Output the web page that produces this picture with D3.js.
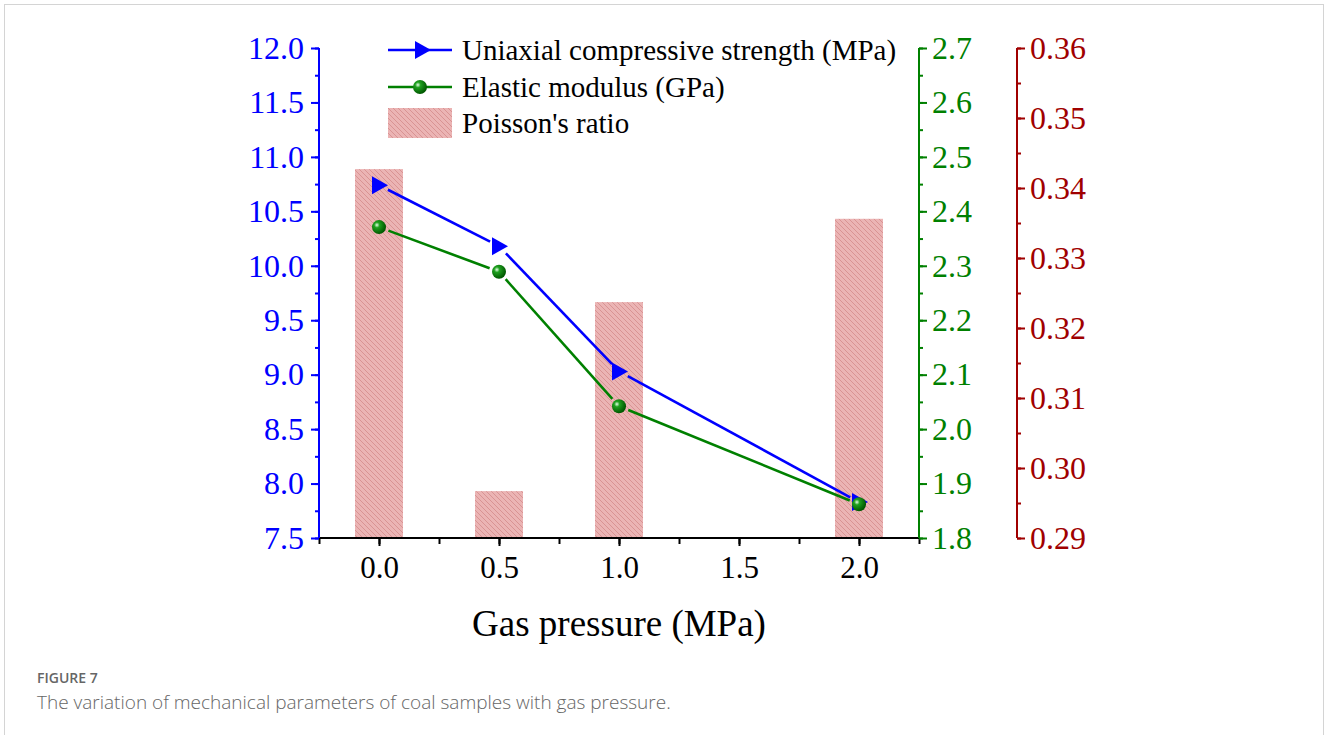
<!DOCTYPE html>
<html>
<head>
<meta charset="utf-8">
<script src="https://cdn.jsdelivr.net/npm/d3@7"></script>
<style>
  body { margin: 0; background: #fff; }
  svg { display: block; }
</style>
</head>
<body>
<div id="contenedor"></div>
<script>
// datos
var presion = [0.0, 0.5, 1.0, 2.0]
var resistencia = [10.74, 10.18, 9.03, 7.83]   // MPa
var modulo = [2.371, 2.289, 2.042, 1.862]      // GPa
var poisson = [0.3427, 0.2967, 0.3237, 0.3356]
var ticksX = [0.0, 0.5, 1.0, 1.5, 2.0]

var ancho = 1328, alto = 735
var izq = 319, der = 919, arriba = 48, abajo = 538
var serif = "'Liberation Serif', 'Times New Roman', serif"

var svg = d3.select("#contenedor").append("svg")
  .attr("width", ancho).attr("height", alto)

// marco de la tarjeta
svg.append("rect").attr("x", 4.5).attr("y", 4.5).attr("width", ancho - 9).attr("height", alto)
  .attr("fill", "none").attr("stroke", "#d4d4d4")

// patron rayado de las barras
var defs = svg.append("defs")
var pat = defs.append("pattern").attr("id", "rayas")
  .attr("patternUnits", "userSpaceOnUse").attr("width", 5).attr("height", 5)
pat.append("rect").attr("width", 5).attr("height", 5).attr("fill", "#ebb4b4")
pat.append("path").attr("d", "M0,0 L5,5 M-1,4 L1,6 M4,-1 L6,1")
  .attr("stroke", "#d48a8a").attr("stroke-width", 0.8)

var grad = defs.append("radialGradient").attr("id", "esfera")
  .attr("cx", "35%").attr("cy", "35%").attr("r", "65%")
grad.append("stop").attr("offset", "0%").attr("stop-color", "#e8ffe8")
grad.append("stop").attr("offset", "30%").attr("stop-color", "#1fa01f")
grad.append("stop").attr("offset", "100%").attr("stop-color", "#005800")

// ESCALAS
var x = d3.scaleLinear().domain([-0.25, 2.25]).range([izq, der])
var yUcs = d3.scaleLinear().domain([7.5, 12.0]).range([abajo, arriba])
var yMod = d3.scaleLinear().domain([1.8, 2.7]).range([abajo, arriba])
var yPoi = d3.scaleLinear().domain([0.29, 0.36]).range([abajo, arriba])

// barras Poisson
svg.selectAll(".barra").data(presion).enter().append("rect")
  .attr("class", "barra")
  .attr("x", function(d) { return x(d - 0.1) })
  .attr("width", function(d) { return x(d + 0.1) - x(d - 0.1) })
  .attr("y", function(d, i) { return yPoi(poisson[i]) })
  .attr("height", function(d, i) { return abajo - yPoi(poisson[i]) })
  .attr("fill", "url(#rayas)")

// lineas con hueco alrededor de los marcadores
function linea(valores, escala, color) {
  for (var i = 0; i < presion.length - 1; i++) {
    var x1 = x(presion[i]), y1 = escala(valores[i])
    var x2 = x(presion[i + 1]), y2 = escala(valores[i + 1])
    var dx = x2 - x1, dy = y2 - y1, L = Math.sqrt(dx * dx + dy * dy), g = 10
    svg.append("line")
      .attr("x1", x1 + dx / L * g).attr("y1", y1 + dy / L * g)
      .attr("x2", x2 - dx / L * g).attr("y2", y2 - dy / L * g)
      .attr("stroke", color).attr("stroke-width", 2.6)
  }
}
linea(resistencia, yUcs, "#0000ff")
linea(modulo, yMod, "#008000")

var triangulo = "M-7,-9 L9,0 L-7,9 Z"
svg.selectAll(".tri").data(presion).enter().append("path")
  .attr("class", "tri")
  .attr("transform", function(d, i) { return "translate(" + x(d) + "," + yUcs(resistencia[i]) + ")" })
  .attr("d", triangulo).attr("fill", "#0000ff")

svg.selectAll(".bola").data(presion).enter().append("circle")
  .attr("class", "bola")
  .attr("cx", function(d) { return x(d) })
  .attr("cy", function(d, i) { return yMod(modulo[i]) })
  .attr("r", 7).attr("fill", "url(#esfera)")

// EJES
function estiloEje(g, color, tam) {
  g.selectAll("path.domain").attr("stroke", color).attr("stroke-width", 2)
  g.selectAll("line").attr("stroke", color).attr("stroke-width", 2)
  g.selectAll("text").attr("fill", color).style("font-family", serif).style("font-size", tam + "px")
}

// eje X
var ejeXmenor = d3.axisBottom(x).tickValues(d3.range(-0.25, 2.26, 0.25)).tickSize(6).tickFormat("")
var gxm = svg.append("g").attr("transform", "translate(0," + abajo + ")").call(ejeXmenor)
estiloEje(gxm, "#000", 31)
gxm.select("path.domain").remove()
var ejeX = d3.axisBottom(x).tickValues(ticksX).tickSize(8).tickPadding(10).tickFormat(d3.format(".1f"))
var gx = svg.append("g").attr("transform", "translate(0," + abajo + ")").call(ejeX)
estiloEje(gx, "#000", 31)
gx.select("path.domain").attr("d", "M" + izq + ",0H" + der)

svg.append("text").attr("x", x(1.0)).attr("y", 636).attr("text-anchor", "middle")
  .style("font-family", serif).style("font-size", "37px").text("Gas pressure (MPa)")

// ejes verticales
function ejeVertical(escala, paso, fmt, posX, color, lado, pad) {
  var d = escala.domain()
  var menores = d3.range(d[0], d[1] + paso / 4, paso / 2)
  var mayores = d3.range(d[0], d[1] + paso / 4, paso)
  var crear = lado === "izq" ? d3.axisLeft : d3.axisRight
  var gm = svg.append("g").attr("transform", "translate(" + posX + ",0)")
    .call(crear(escala).tickValues(menores).tickSize(4).tickFormat(""))
  estiloEje(gm, color, 32)
  gm.select("path.domain").remove()
  var g = svg.append("g").attr("transform", "translate(" + posX + ",0)")
    .call(crear(escala).tickValues(mayores).tickSize(8).tickPadding(pad).tickFormat(d3.format(fmt)))
  estiloEje(g, color, 32)
  g.select("path.domain").attr("d", "M0," + abajo + "V" + arriba)
}
ejeVertical(yUcs, 0.5, ".1f", izq, "#0000ff", "izq", 7)
ejeVertical(yMod, 0.1, ".1f", der, "#008000", "der", 5)
ejeVertical(yPoi, 0.01, ".2f", 1017, "#a00000", "der", 5)

// LEYENDA
var ley = svg.append("g")
var filas = [50, 87, 123]
ley.append("line").attr("x1", 388).attr("x2", 452).attr("y1", filas[0]).attr("y2", filas[0])
  .attr("stroke", "#0000ff").attr("stroke-width", 2.6)
ley.append("path").attr("d", triangulo).attr("fill", "#0000ff")
  .attr("transform", "translate(422," + filas[0] + ")")
ley.append("line").attr("x1", 388).attr("x2", 452).attr("y1", filas[1]).attr("y2", filas[1])
  .attr("stroke", "#008000").attr("stroke-width", 2.6)
ley.append("circle").attr("cx", 420).attr("cy", filas[1]).attr("r", 7).attr("fill", "url(#esfera)")
ley.append("rect").attr("x", 388).attr("y", filas[2] - 15).attr("width", 64).attr("height", 30)
  .attr("fill", "url(#rayas)")
var textos = ["Uniaxial compressive strength (MPa)", "Elastic modulus (GPa)", "Poisson's ratio"]
ley.selectAll(".tl").data(textos).enter().append("text")
  .attr("x", 462).attr("y", function(d, i) { return filas[i] + 10 })
  .style("font-family", serif).style("font-size", "29px").text(function(d) { return d })

// PIE DE FIGURA
svg.append("text").attr("x", 37).attr("y", 683).attr("fill", "#666")
  .style("font-family", "'Open Sans', 'Noto Sans', sans-serif").style("font-size", "14px")
  .style("font-weight", "600").text("FIGURE 7")
svg.append("text").attr("x", 37).attr("y", 709).attr("fill", "#666")
  .style("font-family", "'Open Sans', 'Noto Sans', sans-serif").style("font-size", "19px")
  .style("font-weight", "300").text("The variation of mechanical parameters of coal samples with gas pressure.")
</script>
</body>
</html>
